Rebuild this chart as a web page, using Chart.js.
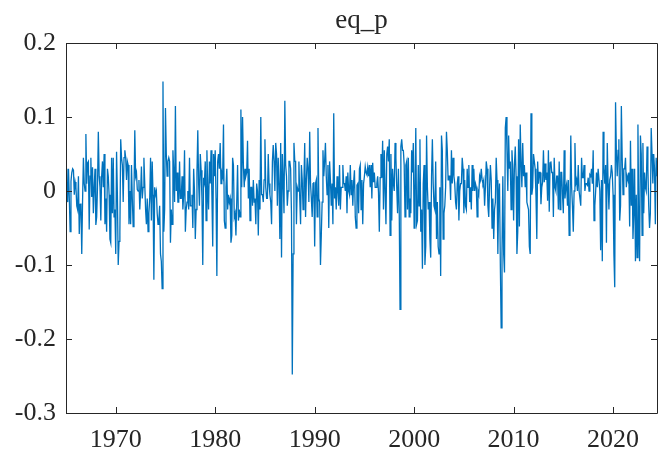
<!DOCTYPE html>
<html>
<head>
<meta charset="utf-8">
<title>eq_p</title>
<script src="https://cdn.jsdelivr.net/npm/chart.js@4.4.1/dist/chart.umd.min.js"></script>
<style>
  html, body { margin: 0; padding: 0; background: #fff; }
  canvas { display: block; }
</style>
</head>
<body>
<canvas id="myChart" width="659" height="455"></canvas>
<script>
// monthly values, one row per year, starting Jan 1965
const startYear = 1965;
const eqP = [
  0.03, 0.0, -0.015, 0.03, -0.01, -0.055, 0.013, 0.025, 0.03, 0.028, -0.005, 0.012,
  0.005, -0.02, -0.025, 0.02, -0.058, -0.018, -0.017, -0.085, -0.012, 0.045, 0.01, 0.0,
  0.077, 0.01, 0.038, 0.04, -0.052, 0.02, 0.045, -0.008, 0.032, -0.03, 0.005, 0.03,
  -0.046, -0.035, 0.005, 0.08, 0.02, 0.005, -0.04, 0.02, 0.04, 0.005, 0.05, -0.045,
  -0.01, -0.055, 0.03, 0.02, -0.005, -0.065, -0.07, 0.045, -0.03, 0.045, -0.035, -0.025,
  -0.085, 0.053, -0.005, -0.1, -0.068, -0.055, 0.07, 0.045, 0.035, -0.015, 0.045, 0.055,
  0.045, 0.015, 0.04, 0.035, -0.045, 0.0, -0.045, 0.035, -0.01, -0.048, -0.005, 0.082,
  0.02, 0.025, 0.002, 0.0, 0.015, -0.025, -0.002, 0.033, -0.01, 0.005, 0.045, 0.01,
  -0.025, -0.045, -0.01, -0.055, -0.03, -0.01, 0.045, -0.04, 0.04, -0.005, -0.12, 0.005,
  -0.005, 0.0, -0.03, -0.045, -0.04, -0.02, -0.085, -0.095, -0.132, 0.148, -0.055, -0.025,
  0.112, 0.05, 0.02, 0.04, 0.045, 0.04, -0.07, -0.025, -0.045, 0.055, 0.025, -0.015,
  0.115, 0.0, 0.025, -0.015, -0.015, 0.04, -0.01, -0.01, 0.02, -0.025, -0.005, 0.055,
  -0.055, -0.025, -0.015, 0.0, -0.025, 0.045, -0.02, -0.02, -0.005, -0.05, 0.03, 0.0,
  -0.065, -0.025, 0.025, 0.082, 0.01, -0.02, 0.05, 0.028, -0.01, -0.1, 0.018, 0.012,
  0.04, -0.04, 0.055, 0.0, -0.025, 0.04, 0.01, 0.055, -0.005, -0.075, 0.05, 0.02,
  0.055, -0.01, -0.115, 0.04, 0.05, 0.03, 0.065, 0.01, 0.025, 0.02, 0.09, -0.04,
  -0.05, 0.005, 0.03, -0.025, -0.005, -0.015, -0.01, -0.07, -0.06, 0.045, 0.035, -0.035,
  -0.03, -0.06, -0.015, 0.035, -0.04, -0.025, -0.035, 0.11, 0.005, 0.1, 0.035, 0.005,
  0.03, 0.02, 0.025, 0.068, -0.01, 0.03, -0.04, 0.005, 0.005, -0.02, 0.015, -0.015,
  -0.01, -0.045, 0.01, 0.0, -0.06, 0.015, -0.025, 0.1, -0.005, -0.005, -0.015, 0.015,
  0.07, 0.005, -0.01, -0.01, 0.05, 0.01, -0.005, -0.015, -0.045, 0.04, 0.062, 0.04,
  0.0, 0.065, 0.05, -0.02, 0.045, 0.01, -0.065, 0.065, -0.09, 0.05, 0.015, -0.03,
  0.122, 0.035, 0.02, -0.02, 0.0, 0.04, 0.04, 0.03, -0.03, -0.248, -0.085, 0.065,
  0.04, 0.04, -0.045, 0.005, 0.0, 0.04, -0.01, -0.045, 0.035, 0.015, -0.025, 0.01,
  0.065, -0.035, 0.015, 0.045, 0.03, -0.015, 0.08, 0.01, -0.01, -0.035, 0.01, 0.012,
  -0.075, 0.01, 0.015, -0.035, 0.085, -0.01, -0.015, -0.1, -0.06, -0.015, 0.055, 0.02,
  0.04, 0.065, 0.02, -0.005, 0.035, -0.05, 0.04, 0.015, -0.02, 0.01, -0.045, 0.105,
  -0.01, 0.005, -0.025, 0.02, 0.0, -0.02, 0.035, -0.025, 0.005, 0.005, 0.035, 0.01,
  0.01, 0.0, 0.02, -0.03, 0.025, 0.0, -0.005, 0.035, -0.005, 0.015, -0.02, 0.012,
  0.028, -0.035, -0.05, 0.008, 0.01, -0.03, 0.03, 0.035, -0.025, 0.015, -0.045, 0.01,
  0.02, 0.033, 0.025, 0.022, 0.032, 0.02, 0.035, 0.005, 0.035, -0.01, 0.038, 0.012,
  0.025, 0.005, 0.005, 0.01, 0.02, -0.002, -0.055, 0.018, 0.05, 0.018, 0.068, -0.025,
  0.055, 0.0, -0.045, 0.05, 0.06, 0.04, 0.07, -0.06, 0.05, -0.04, 0.03, 0.01,
  0.0, 0.065, 0.045, 0.005, -0.03, 0.03, -0.025, -0.16, 0.06, 0.07, 0.055, 0.055,
  0.035, -0.035, 0.035, 0.04, -0.025, 0.045, -0.035, -0.01, -0.03, 0.055, 0.025, 0.065,
  -0.05, 0.0, 0.085, -0.045, -0.04, 0.035, -0.02, 0.07, -0.055, -0.025, -0.105, 0.01,
  0.035, -0.1, -0.075, 0.075, 0.005, -0.025, -0.015, -0.065, -0.09, 0.02, 0.07, 0.01,
  -0.02, -0.025, 0.04, -0.065, -0.015, -0.075, -0.085, 0.005, -0.115, 0.075, 0.055, -0.065,
  -0.03, -0.02, 0.005, 0.08, 0.055, 0.015, 0.02, 0.02, -0.012, 0.055, 0.01, 0.045,
  0.02, 0.01, -0.015, -0.025, 0.01, 0.02, -0.04, 0.0, 0.01, 0.01, 0.045, 0.03,
  -0.03, 0.015, -0.02, -0.025, 0.03, 0.005, 0.035, -0.015, 0.005, -0.025, 0.035, 0.0,
  0.03, 0.0, 0.01, 0.005, -0.035, 0.0, -0.005, 0.02, 0.015, 0.03, 0.015, 0.01,
  0.015, -0.02, 0.005, 0.04, 0.03, -0.02, -0.035, 0.005, 0.035, 0.015, -0.05, -0.01,
  -0.065, -0.025, -0.015, 0.045, 0.015, -0.085, -0.01, 0.01, -0.1, -0.185, -0.085, 0.02,
  -0.085, -0.11, 0.085, 0.1, 0.055, 0.0, 0.075, 0.03, 0.04, -0.025, 0.055, 0.03,
  -0.04, 0.035, 0.06, 0.02, -0.085, -0.055, 0.07, -0.048, 0.09, 0.038, 0.005, 0.065,
  0.02, 0.035, 0.005, 0.025, -0.015, -0.02, -0.025, -0.075, -0.085, 0.105, -0.005, 0.005,
  0.05, 0.04, 0.03, -0.007, -0.065, 0.04, 0.01, 0.025, 0.025, -0.018, 0.005, 0.012,
  0.055, 0.012, 0.037, 0.015, 0.025, -0.013, 0.055, -0.028, 0.038, 0.04, 0.025, 0.025,
  -0.035, 0.045, 0.005, 0.0, 0.02, 0.02, -0.025, 0.04, -0.025, 0.025, 0.025, -0.005,
  -0.03, 0.055, -0.01, 0.005, 0.01, -0.02, 0.015, -0.06, -0.03, 0.075, 0.005, -0.02,
  -0.055, 0.0, 0.065, 0.01, 0.015, 0.0, 0.035, 0.0, 0.0, -0.02, 0.045, 0.018,
  0.018, 0.035, 0.0, 0.01, 0.01, 0.008, 0.018, 0.0, 0.022, 0.02, 0.03, 0.01,
  0.055, -0.04, -0.02, 0.0, 0.025, 0.005, 0.03, 0.03, 0.0, -0.08, 0.015, -0.095,
  0.08, 0.03, 0.01, 0.035, -0.07, 0.065, 0.01, -0.025, 0.015, 0.02, 0.035, 0.025,
  -0.005, -0.085, -0.13, 0.12, 0.05, 0.02, 0.055, 0.07, -0.04, -0.02, 0.115, 0.045,
  -0.005, 0.03, 0.03, 0.045, 0.005, 0.02, 0.015, 0.025, -0.048, 0.068, -0.02, 0.03,
  -0.065, -0.03, 0.03, -0.095, -0.005, -0.09, 0.09, -0.04, -0.095, 0.075, 0.05, -0.06,
  0.065, -0.03, 0.025, 0.005, 0.0, 0.06, 0.03, -0.02, -0.05, -0.03, 0.085, 0.05,
  0.01, 0.05, 0.03, -0.045, 0.045, 0.02
];
const xTicks = [1970, 1980, 1990, 2000, 2010, 2020];
const yTicks = [0.2, 0.1, 0, -0.1, -0.2, -0.3];
const chartTitle = 'eq_p';

const axisColor = '#262626';
const lineColor = '#0072BD';
const fontFamily = "'Liberation Serif', 'DejaVu Serif', serif";

const points = eqP.map((v, i) => ({ x: startYear + i / 12, y: v }));
const lastX = points[points.length - 1].x;

// matlab style box, inward ticks on all four sides, title over the plot area
const boxPlugin = {
  id: 'matlabBox',
  afterDraw(chart) {
    const ctx = chart.ctx;
    const a = chart.chartArea;
    const xs = chart.scales.x;
    const ys = chart.scales.y;
    const tl = 6;
    ctx.save();
    ctx.strokeStyle = axisColor;
    ctx.lineWidth = 1;
    ctx.beginPath();
    ctx.rect(Math.round(a.left) + 0.5, Math.round(a.top) + 0.5,
      Math.round(a.right - a.left), Math.round(a.bottom - a.top));
    xTicks.forEach(v => {
      const px = Math.round(xs.getPixelForValue(v)) + 0.5;
      ctx.moveTo(px, a.bottom); ctx.lineTo(px, a.bottom - tl);
      ctx.moveTo(px, a.top); ctx.lineTo(px, a.top + tl);
    });
    yTicks.forEach(v => {
      const py = Math.round(ys.getPixelForValue(v)) + 0.5;
      ctx.moveTo(a.left, py); ctx.lineTo(a.left + tl, py);
      ctx.moveTo(a.right, py); ctx.lineTo(a.right - tl, py);
    });
    ctx.stroke();

    ctx.fillStyle = axisColor;
    ctx.font = '27px ' + fontFamily;
    ctx.textAlign = 'center';
    ctx.textBaseline = 'alphabetic';
    ctx.fillText(chartTitle, (a.left + a.right) / 2, 28);
    ctx.restore();
  }
};

const ctx = document.getElementById('myChart');
new Chart(ctx, {
  type: 'line',
  data: {
    datasets: [{
      label: chartTitle,
      data: points,
      borderColor: lineColor,
      borderWidth: 1.3,
      pointRadius: 0,
      tension: 0,
      fill: false
    }]
  },
  options: {
    responsive: false,
    animation: false,
    devicePixelRatio: 1,
    layout: { padding: { left: 0, right: 2, top: 43, bottom: 0 } },
    plugins: {
      legend: { display: false },
      tooltip: { enabled: false },
      title: { display: false }
    },
    scales: {
      x: {
        type: 'linear',
        min: startYear,
        max: lastX,
        grid: { display: false, drawTicks: false, tickLength: 0 },
        border: { display: false },
        afterBuildTicks: scale => { scale.ticks = xTicks.map(v => ({ value: v })); },
        afterFit: scale => { scale.height = 42; },
        ticks: {
          color: axisColor,
          font: { family: fontFamily, size: 26 },
          padding: 12,
          maxRotation: 0,
          autoSkip: false,
          callback: v => String(v)
        }
      },
      y: {
        min: -0.3,
        max: 0.2,
        grid: { display: false, drawTicks: false, tickLength: 0 },
        border: { display: false },
        afterBuildTicks: scale => { scale.ticks = yTicks.map(v => ({ value: v })); },
        afterFit: scale => { scale.width = 66; },
        ticks: {
          color: axisColor,
          font: { family: fontFamily, size: 26 },
          padding: 10,
          autoSkip: false,
          callback: v => (v === 0 ? '0' : v.toFixed(1))
        }
      }
    }
  },
  plugins: [boxPlugin]
});
</script>
</body>
</html>
